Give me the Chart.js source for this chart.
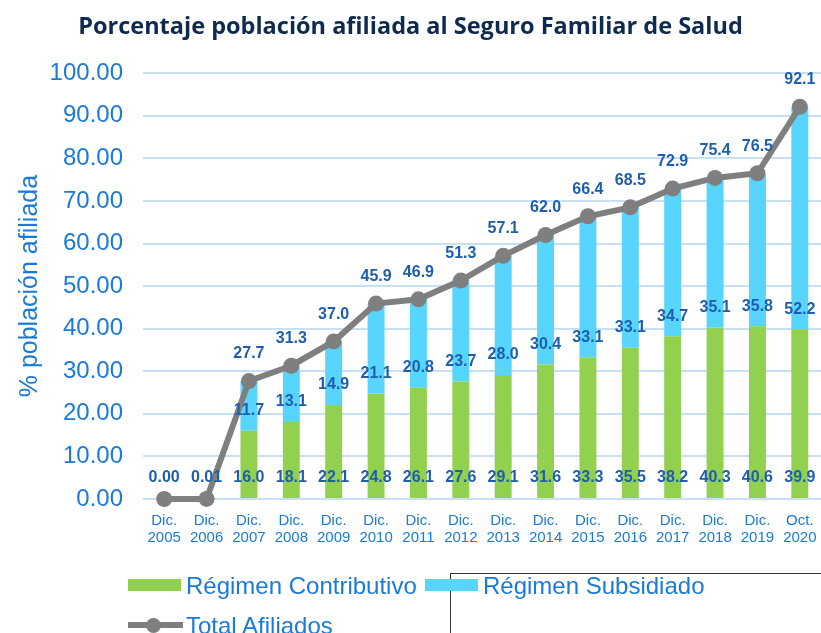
<!DOCTYPE html>
<html lang="es">
<head>
<meta charset="UTF-8">
<title>Seguro Familiar de Salud</title>
<script src="https://cdn.jsdelivr.net/npm/chart.js"></script>
<style>
  html, body { margin: 0; padding: 0; background: #fff; overflow: hidden; }
  #wrap { position: relative; width: 821px; height: 633px; }
  #chart { position: absolute; left: 0; top: 0; }
  .lg { position: absolute; font-family: "Liberation Sans", Arial, sans-serif; font-size: 24px; color: #1a7ad8; white-space: nowrap; line-height: 1; }
  .sw { position: absolute; }
  #note { position: absolute; left: 450px; top: 573px; width: 371px; height: 60px; border-left: 1px solid #333; border-top: 1px solid #333; }
</style>
</head>
<body>
<div id="wrap">
  <canvas id="chart" width="821" height="633"></canvas>
  <div id="note"></div>
  <!-- Legend -->
  <div class="sw" style="left:128px; top:579px; width:53px; height:12px; background:#92d050;"></div>
  <div class="lg" style="left:186px; top:574px;">Régimen Contributivo</div>
  <div class="sw" style="left:425px; top:579px; width:53px; height:12px; background:#57d5fe;"></div>
  <div class="lg" style="left:483px; top:574px;">Régimen Subsidiado</div>
  <div class="sw" style="left:128px; top:622px; width:55px; height:6px; background:#7f7f7f;"></div>
  <div class="sw" style="left:146px; top:618px; width:15px; height:15px; border-radius:50%; background:#7f7f7f;"></div>
  <div class="lg" style="left:186px; top:614px;">Total Afiliados</div>
</div>

<script>
  // Data
  const periodos = [
    ['Dic.', '2005'], ['Dic.', '2006'], ['Dic.', '2007'], ['Dic.', '2008'],
    ['Dic.', '2009'], ['Dic.', '2010'], ['Dic.', '2011'], ['Dic.', '2012'],
    ['Dic.', '2013'], ['Dic.', '2014'], ['Dic.', '2015'], ['Dic.', '2016'],
    ['Dic.', '2017'], ['Dic.', '2018'], ['Dic.', '2019'], ['Oct.', '2020']
  ];
  const contributivo = [0.00, 0.01, 16.0, 18.1, 22.1, 24.8, 26.1, 27.6, 29.1, 31.6, 33.3, 35.5, 38.2, 40.3, 40.6, 39.9];
  const subsidiado = [0, 0, 11.7, 13.1, 14.9, 21.1, 20.8, 23.7, 28.0, 30.4, 33.1, 33.1, 34.7, 35.1, 35.8, 52.2];
  const totalAfiliados = [0, 0.01, 27.7, 31.3, 37.0, 45.9, 46.9, 51.3, 57.1, 62.0, 66.4, 68.5, 72.9, 75.4, 76.5, 92.1];
  const yTicks = [0, 10, 20, 30, 40, 50, 60, 70, 80, 90, 100];

  const labelColor = '#1d5fae';
  const labelFont = 'bold 16px "Liberation Sans", Arial, sans-serif';

  // Value labels drawn from the element positions
  const valueLabels = {
    id: 'valueLabels',
    afterDatasetsDraw(chart) {
      const ctx = chart.ctx;
      const y = chart.scales.y;
      const green = chart.getDatasetMeta(0).data;
      const blue = chart.getDatasetMeta(1).data;
      const line = chart.getDatasetMeta(2).data;
      ctx.save();
      ctx.font = labelFont;
      ctx.fillStyle = labelColor;
      ctx.textAlign = 'center';
      ctx.textBaseline = 'middle';
      contributivo.forEach((v, i) => {
        const txt = v < 1 ? v.toFixed(2) : v.toFixed(1);
        ctx.fillText(txt, green[i].x, y.getPixelForValue(0) - 21);
      });
      subsidiado.forEach((v, i) => {
        if (!v) return;
        ctx.fillText(v.toFixed(1), blue[i].x, green[i].y - 20);
      });
      totalAfiliados.forEach((v, i) => {
        if (v < 1) return;
        ctx.fillText(v.toFixed(1), line[i].x, line[i].y - 27);
      });
      ctx.restore();
    }
  };

  new Chart(document.getElementById('chart'), {
    data: {
      labels: periodos,
      datasets: [
        {
          type: 'bar',
          label: 'Régimen Contributivo',
          data: contributivo,
          backgroundColor: '#92d050',
          stack: 'afiliados',
          order: 1,
          barPercentage: 0.4,
          categoryPercentage: 1
        },
        {
          type: 'bar',
          label: 'Régimen Subsidiado',
          data: subsidiado,
          backgroundColor: '#57d5fe',
          stack: 'afiliados',
          order: 1,
          barPercentage: 0.4,
          categoryPercentage: 1
        },
        {
          type: 'line',
          label: 'Total Afiliados',
          data: totalAfiliados,
          borderColor: '#7f7f7f',
          backgroundColor: '#7f7f7f',
          borderWidth: 6,
          pointRadius: 8,
          pointBorderWidth: 0,
          stack: 'total',
          order: 0,
          tension: 0,
          clip: false
        }
      ]
    },
    options: {
      responsive: false,
      animation: false,
      layout: { autoPadding: false, padding: { left: 0, right: 0, bottom: 89, top: 0 } },
      plugins: {
        legend: { display: false },
        tooltip: { enabled: false },
        title: {
          display: true,
          text: 'Porcentaje población afiliada al Seguro Familiar de Salud',
          color: '#0d2a4f',
          font: { family: '"Open Sans", sans-serif', size: 23.5, weight: 'bold' },
          padding: { top: 13, bottom: 32 }
        }
      },
      scales: {
        x: {
          stacked: true,
          grid: { display: false },
          border: { display: false },
          ticks: {
            color: '#1a7ad8',
            font: { family: '"Liberation Sans", Arial, sans-serif', size: 15, lineHeight: 1.15 },
            padding: 5,
            maxRotation: 0,
            autoSkip: false
          },
          afterFit(scale) {
            scale.height = 45;
            scale.paddingLeft = 0;
            scale.paddingRight = 0;
          }
        },
        y: {
          stacked: true,
          min: 0,
          max: 100,
          afterBuildTicks(scale) { scale.ticks = yTicks.map(v => ({ value: v })); },
          grid: { color: '#c6e0f8', lineWidth: 2, drawTicks: false },
          border: { display: false },
          ticks: {
            color: '#1a7ad8',
            font: { family: '"Liberation Sans", Arial, sans-serif', size: 24 },
            padding: 20,
            callback: v => v.toFixed(2)
          },
          title: {
            display: true,
            text: '% población afiliada',
            color: '#1a7ad8',
            font: { family: '"Liberation Sans", Arial, sans-serif', size: 25 },
            padding: { top: 15, bottom: 0 }
          },
          afterFit(scale) { scale.width = 143; }
        }
      }
    },
    plugins: [valueLabels]
  });
</script>
</body>
</html>
